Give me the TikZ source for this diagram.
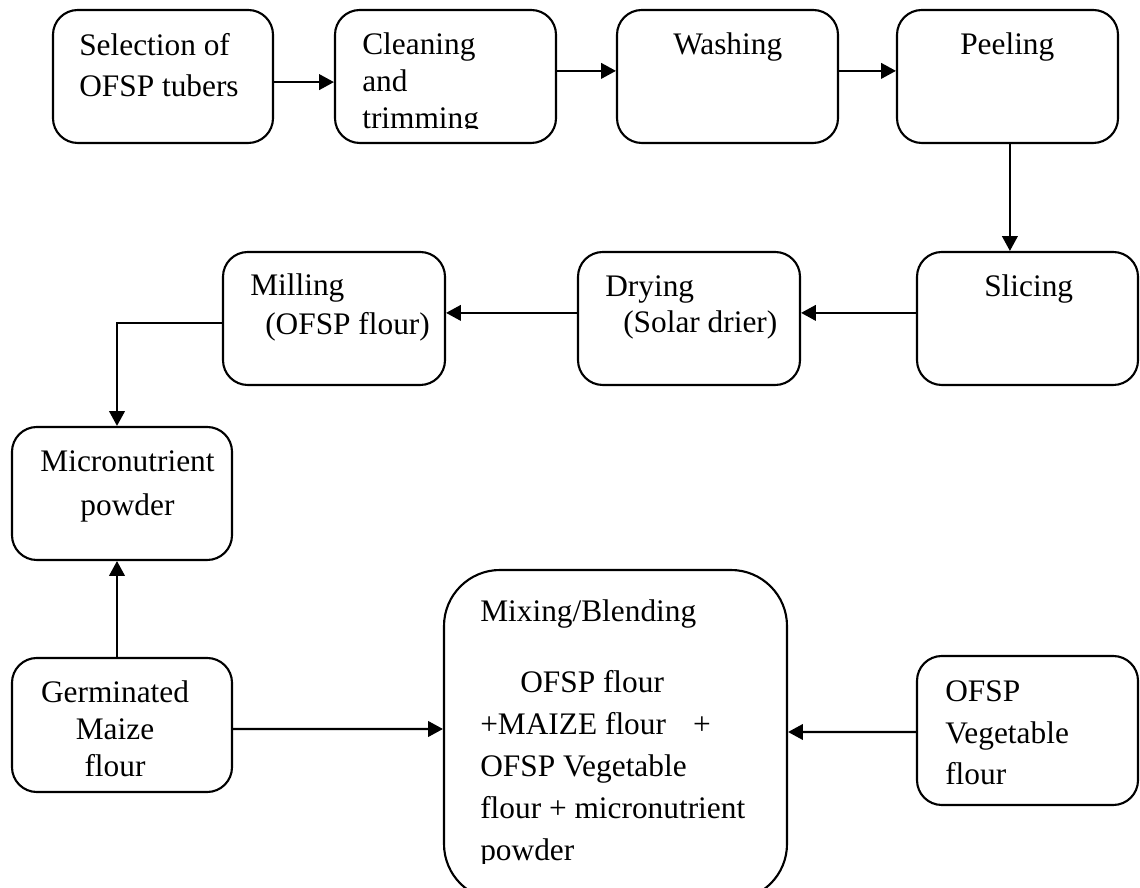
\documentclass[tikz,border=0pt]{standalone}
\usepackage{fontspec}
\setmainfont{Liberation Serif}
\usepackage{tikz}
\usetikzlibrary{arrows.meta,positioning,calc}

\begin{document}
\begin{tikzpicture}[
    >=Triangle,
    stepbox/.style={
      draw=black, line width=1.5pt, rounded corners=#1,
      inner sep=0pt,
    },
    stepbox/.default=0.62cm,
    txt/.style={
      inner sep=0pt, anchor=base west, text width=9cm, align=flush left,
      font=\fontsize{22.3}{#1}\selectfont,
    },
    txt/.default=26pt,
    ctxt/.style={
      inner sep=0pt, anchor=base, text width=6cm, align=flush center,
      font=\fontsize{22.3}{#1}\selectfont,
    },
    arr/.style={-{Triangle[length=10.5pt,width=11pt]}, line width=1.5pt},
  ]

  \useasboundingbox (0,0) rectangle (28.5,22.175);

  % =================== TOP ROW ===================
  \node[stepbox, minimum width=5.5cm,   minimum height=3.325cm] (sel)   at (4.075, 20.2625) {};
  \node[stepbox, minimum width=5.525cm, minimum height=3.325cm] (clean) at (11.1375, 20.2625) {};
  \node[stepbox, minimum width=5.525cm, minimum height=3.325cm] (wash)  at (18.1875, 20.2625) {};
  \node[stepbox, minimum width=5.525cm, minimum height=3.325cm] (peel)  at (25.1875, 20.2625) {};

  \node[txt=28.9pt] (sel-t) at (1.975, 20.775) {Selection of\\OFSP tubers};
  \begin{scope}
    \clip (clean.north west) rectangle ($(clean.south east)+(0,0.4)$);
    \node[txt] (clean-t) at (9.05, 20.8) {Cleaning\\and\\trimming};
  \end{scope}
  \node[txt] (wash-t) at (16.825, 20.8) {Washing};
  \node[txt] (peel-t) at (24.0, 20.8) {Peeling};

  % =================== MIDDLE ROW ===================
  \node[stepbox, minimum width=5.525cm, minimum height=3.325cm] (slice) at (25.6875, 14.2125) {};
  \node[stepbox, minimum width=5.55cm,  minimum height=3.325cm] (dry)   at (17.225, 14.2125) {};
  \node[stepbox, minimum width=5.55cm,  minimum height=3.325cm] (mill)  at (8.35, 14.2125) {};

  \node[txt] (slice-t) at (24.6, 14.75) {Slicing};
  \node[txt=25.6pt] (dry-t) at (15.125, 14.75) {Drying\\\hspace*{0.45cm}(Solar drier)};
  \node[txt=27.7pt] (mill-t) at (6.25, 14.775) {Milling\\\hspace*{0.375cm}(OFSP flour)};

  % =================== LEFT COLUMN ===================
  \node[stepbox, minimum width=5.5cm, minimum height=3.325cm] (micro) at (3.05, 9.8375) {};
  \node[stepbox, minimum width=5.5cm, minimum height=3.35cm]  (germ)  at (3.05, 4.05) {};

  \node[ctxt=30.6pt] (micro-t) at (3.1875, 10.375) {Micronutrient\\powder};
  \node[ctxt=26pt] (germ-t) at (2.875, 4.6) {Germinated\\Maize\\flour};

  % =================== BLENDING ===================
  \node[stepbox=1.4cm, minimum width=8.575cm, minimum height=8.25cm] (mix) at (15.3875, 3.8) {};
  \node[stepbox, minimum width=5.525cm, minimum height=3.725cm] (veg) at (25.6875, 3.9125) {};

  \begin{scope}
    \clip ($(mix.south west)+(0,0.95)$) rectangle (mix.north east);
    \node[txt=29.9pt] (mix-t) at (12.0, 6.625) {Mixing/Blending\\[19.9pt]
      \hspace*{1cm}OFSP flour\\
      +MAIZE flour\hspace{0.68cm}+\\
      OFSP Vegetable\\
      flour + micronutrient\\
      powder};
  \end{scope}
  \node[txt=29.5pt] (veg-t) at (23.625, 4.625) {OFSP\\Vegetable\\flour};

  % =================== ARROWS ===================
  \draw[arr] ([yshift=-1.4mm]sel.east) -- ([yshift=-1.4mm]clean.west);
  \draw[arr] ([yshift=1.4mm]clean.east) -- ([yshift=1.4mm]wash.west);
  \draw[arr] ([yshift=1.4mm]wash.east) -- ([yshift=1.4mm]peel.west);
  \draw[arr] ([xshift=0.6mm]peel.south) -- ([xshift=-4.4mm]slice.north);
  \draw[arr] ([yshift=1.4mm]slice.west) -- ([yshift=1.4mm]dry.east);
  \draw[arr] ([yshift=1.4mm]dry.west) -- ([yshift=1.4mm]mill.east);
  \draw[arr] ([yshift=-1.1mm]mill.west) -| ([xshift=-1.25mm]micro.north);
  \draw[arr] ([xshift=-1.25mm]germ.north) -- ([xshift=-1.25mm]micro.south);
  \draw[arr] ([yshift=-1mm]germ.east) -- ([yshift=1.5mm]mix.west);
  \draw[arr] ([yshift=-0.375mm]veg.west) -- ([yshift=0.75mm]mix.east);

\end{tikzpicture}
\end{document}
